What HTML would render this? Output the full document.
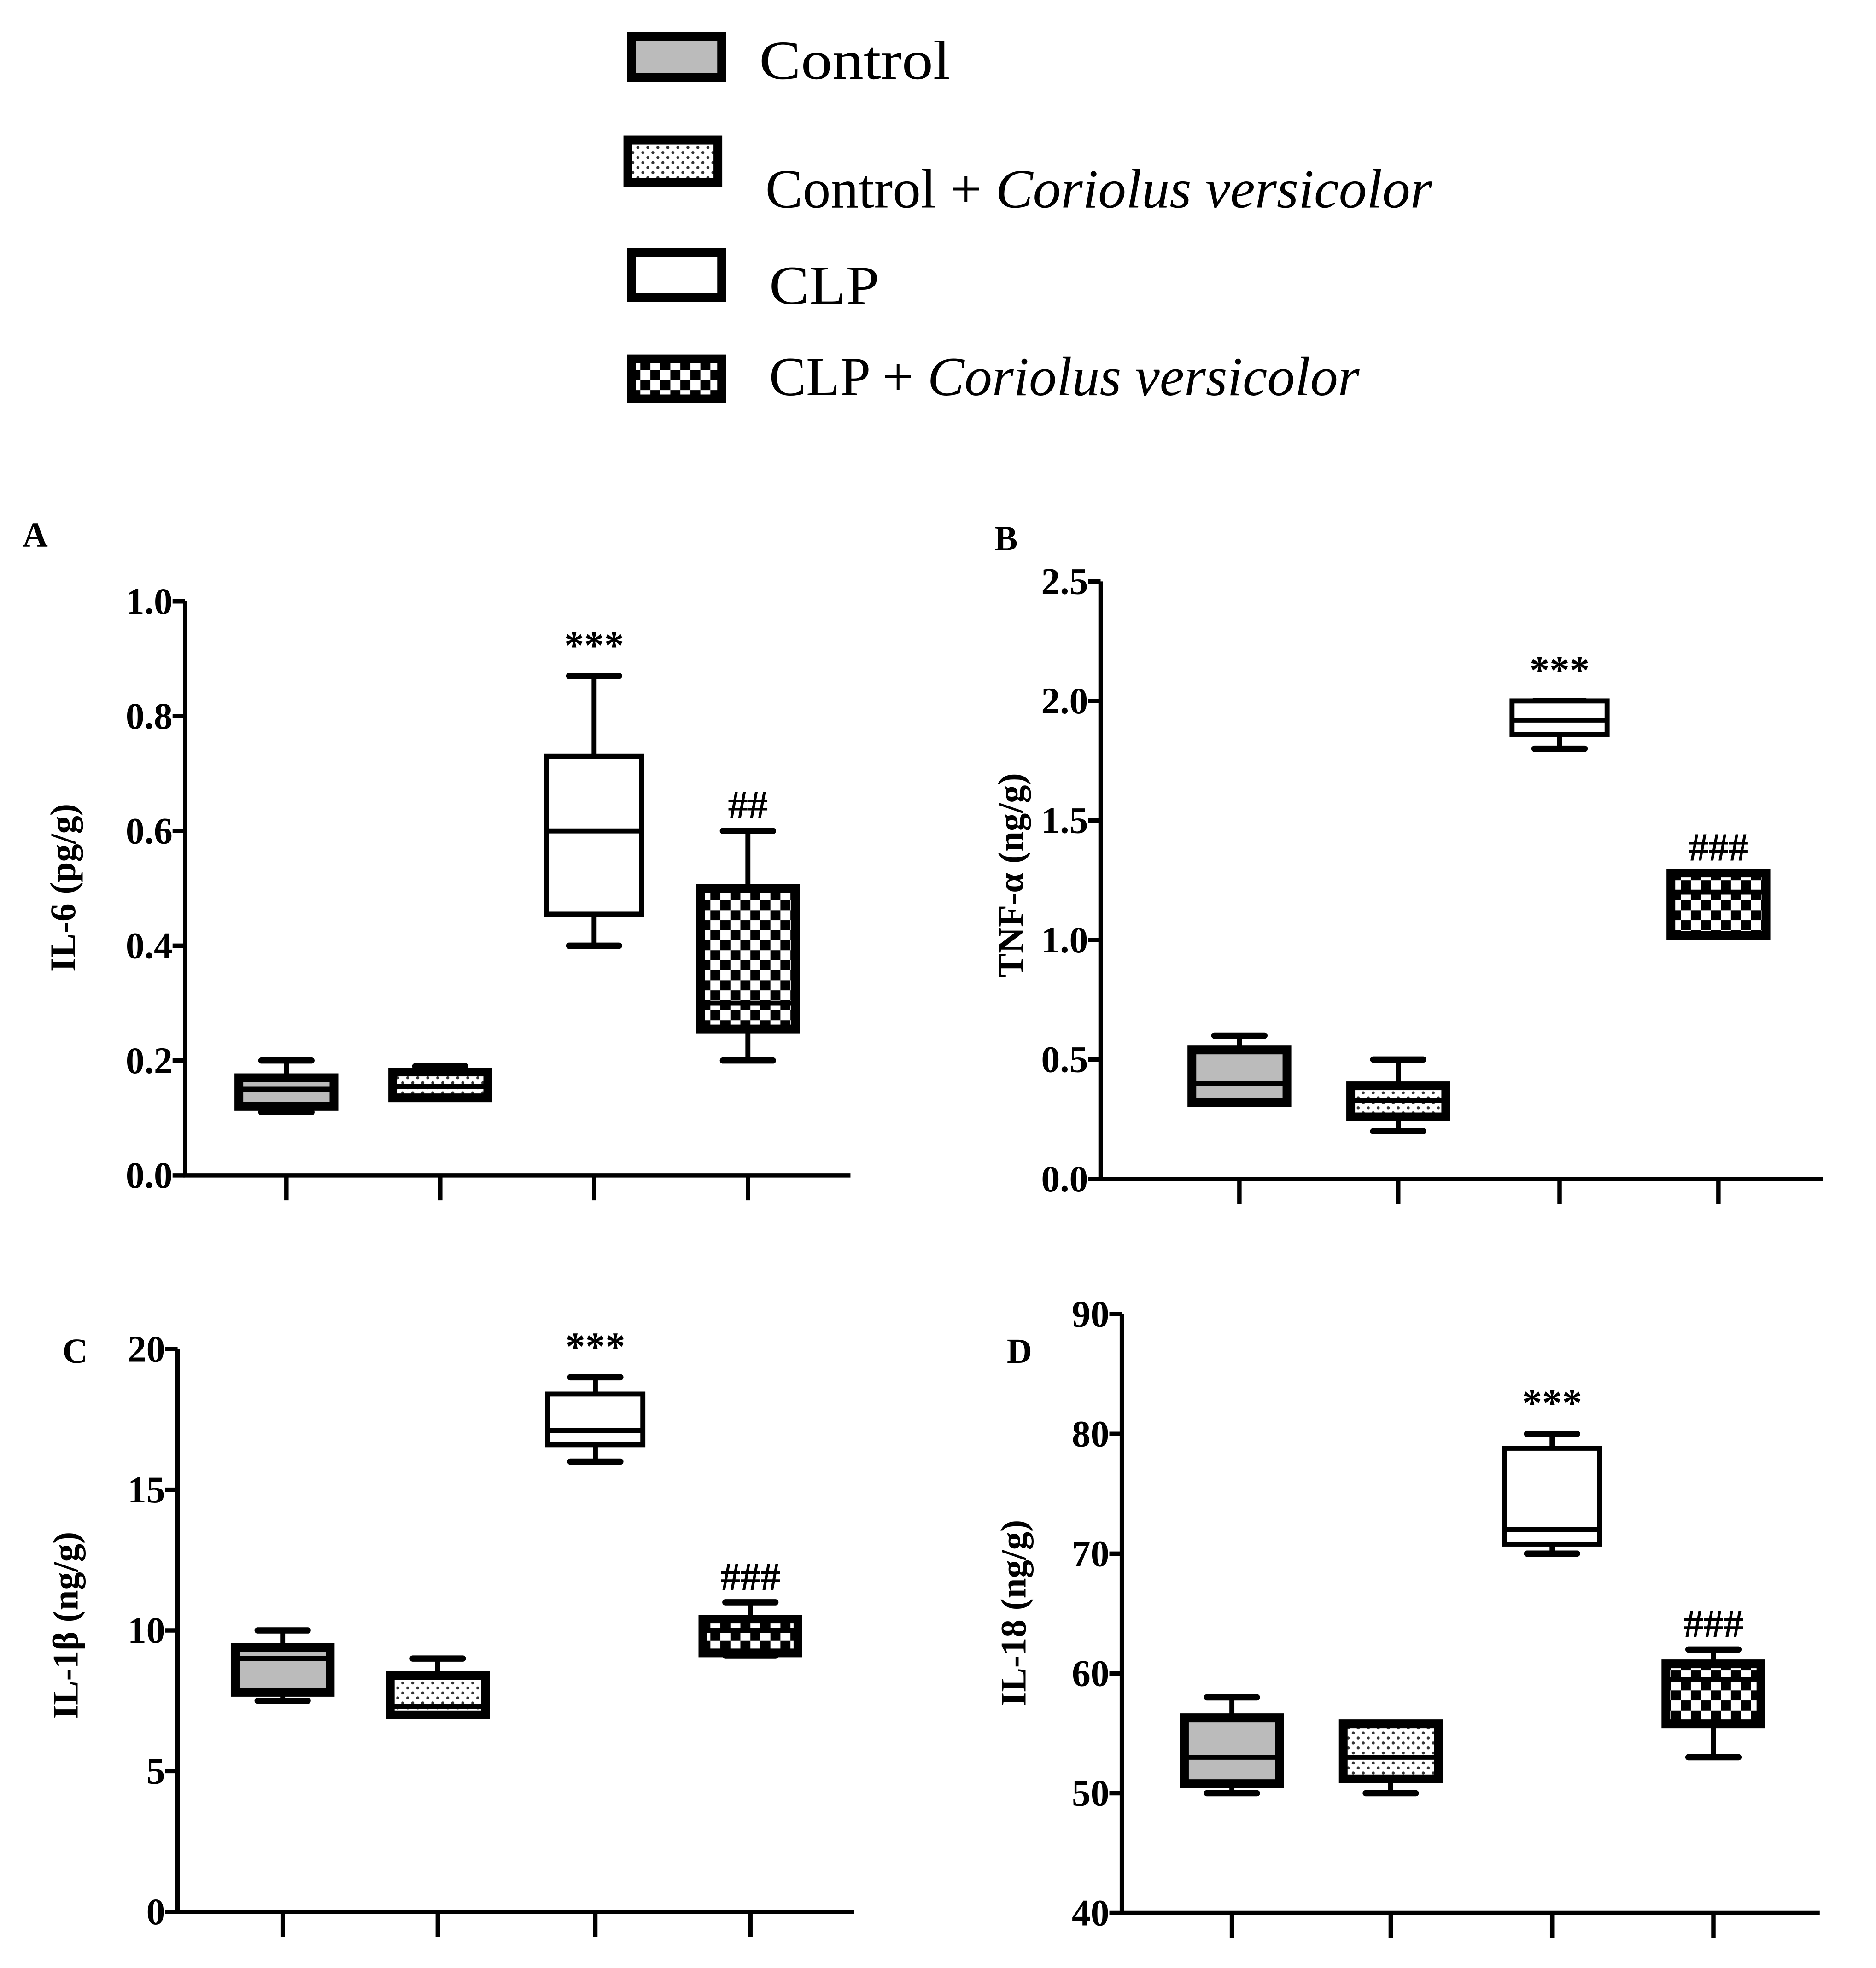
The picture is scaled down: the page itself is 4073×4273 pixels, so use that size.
<!DOCTYPE html>
<html><head><meta charset="utf-8"><style>
html,body{margin:0;padding:0;background:#fff}
svg{display:block}
text{font-family:"Liberation Serif",serif;fill:#000}
</style></head><body>
<svg id="fig" width="4073" height="4273" viewBox="0 0 1500 1574" preserveAspectRatio="none" xmlns="http://www.w3.org/2000/svg">
<defs>
<pattern id="pDots" width="8" height="8" patternUnits="userSpaceOnUse"><rect width="8" height="8" fill="#fff"/><circle cx="2" cy="2" r="1.2" fill="#333"/><circle cx="6" cy="6" r="1.2" fill="#333"/></pattern>
<pattern id="pChk" width="16" height="16" patternUnits="userSpaceOnUse"><rect width="16" height="16" fill="#fff"/><rect width="8" height="8" fill="#000"/><rect x="8" y="8" width="8" height="8" fill="#000"/></pattern>
</defs>
<g>
<rect x="505" y="29" width="72" height="33" fill="#bbb" stroke="#000" stroke-width="7"/>
<text x="607" y="63" font-size="44" textLength="153" lengthAdjust="spacingAndGlyphs">Control</text>
<rect x="502" y="112" width="72" height="34" fill="url(#pDots)" stroke="#000" stroke-width="7"/>
<text x="612" y="166" font-size="44" textLength="533" lengthAdjust="spacingAndGlyphs">Control + <tspan font-style="italic">Coriolus versicolor</tspan></text>
<rect x="505" y="202" width="72" height="36" fill="#fff" stroke="#000" stroke-width="7"/>
<text x="615" y="243" font-size="44" textLength="88" lengthAdjust="spacingAndGlyphs">CLP</text>
<rect x="505" y="287" width="72" height="32" fill="url(#pChk)" stroke="#000" stroke-width="7"/>
<text x="615" y="316" font-size="44" textLength="472" lengthAdjust="spacingAndGlyphs">CLP + <tspan font-style="italic">Coriolus versicolor</tspan></text>
</g>
<g id="panels"></g>
</svg>
<script>
// Panel A: IL-6
const aMin=[0.11,0.14,0.40,0.20], aQ1=[0.12,0.135,0.455,0.255], aMed=[0.15,0.155,0.60,0.30], aQ3=[0.17,0.18,0.73,0.50], aMax=[0.20,0.19,0.87,0.60];
const aTicks=["0.0","0.2","0.4","0.6","0.8","1.0"];
// Panel B: TNF-alpha
const bMin=[0.32,0.20,1.80,1.02], bQ1=[0.32,0.26,1.86,1.02], bMed=[0.40,0.33,1.92,1.20], bQ3=[0.54,0.39,2.00,1.28], bMax=[0.60,0.50,2.00,1.28];
const bTicks=["0.0","0.5","1.0","1.5","2.0","2.5"];
// Panel C: IL-1beta
const cMin=[7.5,7.0,16.0,9.1], cQ1=[7.8,7.0,16.6,9.2], cMed=[9.0,7.3,17.1,10.0], cQ3=[9.4,8.4,18.4,10.4], cMax=[10.0,9.0,19.0,11.0];
const cTicks=["0","5","10","15","20"];
// Panel D: IL-18
const dMin=[50,50,70,53], dQ1=[50.8,51.2,70.8,55.8], dMed=[53,53,72,59.5], dQ3=[56.3,55.8,78.8,60.8], dMax=[58,55.8,80,62];
const dTicks=["40","50","60","70","80","90"];
const groups=["control","control-cv","clp","clp-cv"];
const annots=["","","***","##"];

const NS="http://www.w3.org/2000/svg";
const root=document.getElementById('panels');
function mk(tag,attrs,parent){const e=document.createElementNS(NS,tag);for(const k in attrs)e.setAttribute(k,attrs[k]);(parent||root).appendChild(e);return e;}
const fills=["#bbb","url(#pDots)","#fff","url(#pChk)"];

function panel(cfg){
  const g=mk('g',{});
  
  
  const ticks=cfg.ticks.map(Number);
  const lo=ticks[0], hi=ticks[ticks.length-1];
  const y=v=>cfg.y0-(v-lo)/(hi-lo)*(cfg.y0-cfg.yTop);
  const x=i=>cfg.cats[i];
  const ax=mk('path',{d:`M${cfg.ax} ${cfg.yTop} V${cfg.y0} H${cfg.xEnd}`,stroke:'#000','stroke-width':3.5,fill:'none'},g);
  
  
  cfg.ticks.forEach((t,i)=>{
    const yy=y(ticks[i]);
    mk('line',{x1:cfg.ax-10,x2:cfg.ax,y1:yy,y2:yy,stroke:'#000','stroke-width':3.5},g);
    const tx=mk('text',{x:cfg.ax-10,y:yy+10,'font-size':30,'font-weight':'bold','text-anchor':'end'},g);
    tx.textContent=t;
    
    
  });
  cfg.cats.forEach(cx=>mk('line',{x1:cx,x2:cx,y1:cfg.y0,y2:cfg.y0+20,stroke:'#000','stroke-width':3.5},g));
  const hw=38;
  for(let i=0;i<4;i++){
    const bg=mk('g',{},g);
    
    
    const cx=x(i);
    mk('line',{x1:cx,x2:cx,y1:y(cfg.max[i]),y2:y(cfg.min[i]),stroke:'#000','stroke-width':4},bg);
    mk('line',{x1:cx-20,x2:cx+20,y1:y(cfg.max[i]),y2:y(cfg.max[i]),stroke:'#000','stroke-width':5,'stroke-linecap':'round'},bg);
    mk('line',{x1:cx-20,x2:cx+20,y1:y(cfg.min[i]),y2:y(cfg.min[i]),stroke:'#000','stroke-width':5,'stroke-linecap':'round'},bg);
    mk('rect',{x:cx-hw,y:y(cfg.q3[i]),width:hw*2,height:Math.max(1,y(cfg.q1[i])-y(cfg.q3[i])),fill:fills[i],stroke:'#000','stroke-width':i==2?4:7},bg);
    mk('line',{x1:cx-hw,x2:cx+hw,y1:y(cfg.med[i]),y2:y(cfg.med[i]),stroke:'#000','stroke-width':4},bg);
    const an=i==3?cfg.hash:annots[i];
    if(an){const t=mk('text',{x:cx,y:y(cfg.max[i])-(i==2?14:10),'font-size':32,'font-weight':'bold','text-anchor':'middle'},bg);t.textContent=an;
      
      }
  }
  const lt=mk('text',{x:cfg.lx,y:cfg.ly,'font-size':28,'font-weight':'bold'},g);lt.textContent=cfg.id.toUpperCase();
  
  
  const yt=mk('text',{x:0,y:0,'font-size':29,'font-weight':'bold','text-anchor':'middle',transform:`translate(${cfg.tx},${cfg.ty}) rotate(-90)`},g);yt.textContent=cfg.title;
  
  
}
panel({id:'a',ax:148,y0:940,yTop:481,xEnd:680,cats:[229,352,475,598],ticks:aTicks,min:aMin,q1:aQ1,med:aMed,q3:aQ3,max:aMax,hash:"##",lx:18,ly:437,tx:60,ty:710,title:"IL-6 (pg/g)"});
panel({id:'b',ax:880,y0:943,yTop:465,xEnd:1458,cats:[991,1118,1247,1374],ticks:bTicks,min:bMin,q1:bQ1,med:bMed,q3:bQ3,max:bMax,hash:"###",lx:795,ly:440,tx:818,ty:700,title:"TNF-α (ng/g)"});
panel({id:'c',ax:142,y0:1529,yTop:1079,xEnd:683,cats:[226,350,476,600],ticks:cTicks,min:cMin,q1:cQ1,med:cMed,q3:cQ3,max:cMax,hash:"###",lx:50,ly:1090,tx:62,ty:1300,title:"IL-1β (ng/g)"});
panel({id:'d',ax:897,y0:1530,yTop:1051,xEnd:1455,cats:[985,1112,1241,1370],ticks:dTicks,min:dMin,q1:dQ1,med:dMed,q3:dQ3,max:dMax,hash:"###",lx:805,ly:1090,tx:820,ty:1290,title:"IL-18 (ng/g)"});
</script>
</body></html>
